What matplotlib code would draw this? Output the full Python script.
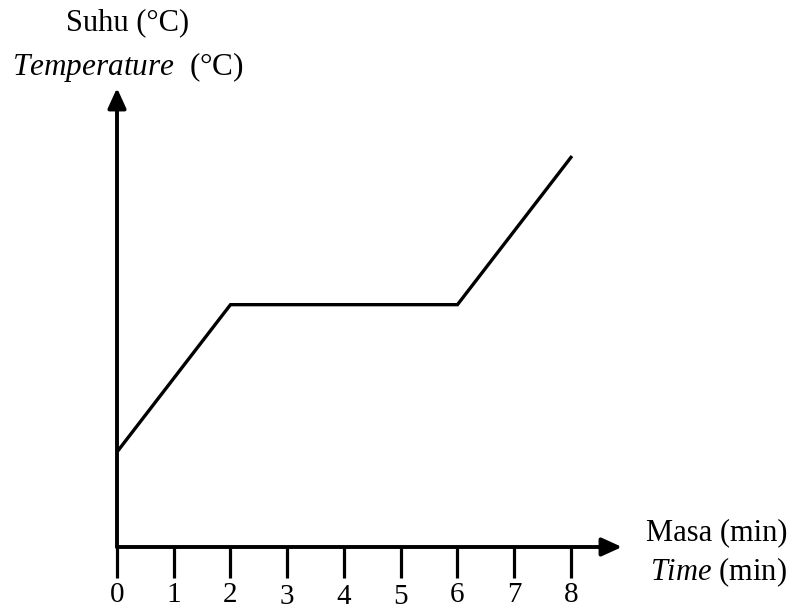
import matplotlib
matplotlib.use("Agg")
from matplotlib import pyplot as plt
from matplotlib.transforms import ScaledTranslation

# data: time (min) and temperature (arbitrary units, no y scale shown)
time_min = [0, 2, 6, 8]
temp = [20, 51, 51, 82]
tick_vals = [0, 1, 2, 3, 4, 5, 6, 7, 8]

plt.rcParams['font.family'] = ['Liberation Serif', 'DejaVu Serif']
plt.rcParams['mathtext.fontset'] = 'custom'
plt.rcParams['mathtext.rm'] = 'Liberation Serif'
plt.rcParams['mathtext.it'] = 'Liberation Serif:italic'

fig = plt.figure(figsize=(7.92, 6.12), dpi=100)
ax = fig.add_axes([117 / 792, 65 / 612, (622 - 117) / 792, (547 - 88) / 612])

ax.plot(time_min, temp, color='black', lw=2.4, solid_joinstyle='miter')

ax.set_xlim(0, 8.9)
ax.set_ylim(0, 96.6)

for s in ['top', 'right', 'left', 'bottom']:
    ax.spines[s].set_visible(False)

# axes drawn as arrows
arrow = dict(arrowstyle='-|>,head_length=0.55,head_width=0.25', lw=2.8,
             color='black', mutation_scale=22, shrinkA=0, shrinkB=0)
ax.annotate('', xy=(1, 0), xytext=(0, 0), xycoords='axes fraction',
            arrowprops=arrow)
ax.annotate('', xy=(0, 1), xytext=(0, 0), xycoords='axes fraction',
            arrowprops=arrow)

ax.set_xticks(tick_vals)
ax.set_xticklabels([str(t) for t in tick_vals])
ax.set_yticks([])
ax.tick_params(axis='x', direction='out', length=22, width=2.3,
               labelsize=21, pad=3.5)
# labels 3, 4, 5 sit a little lower in the original
for lab in ax.get_xticklabels()[3:6]:
    lab.set_transform(lab.get_transform() +
                      ScaledTranslation(0, -1.5 / 72, fig.dpi_scale_trans))

fig.text(128 / 792, 1 - 30 / 612, 'Suhu (°C)', fontsize=22,
         ha='center', va='baseline')
fig.text(12 / 792, 1 - 75 / 612, '$\\it{Temperature}$  (°C)', fontsize=22.5,
         ha='left', va='baseline')

fig.text(787 / 792, 1 - 540 / 612, 'Masa (min)', fontsize=22,
         ha='right', va='baseline')
fig.text(787 / 792, 1 - 580 / 612, '$\\it{Time}$ (min)', fontsize=22,
         ha='right', va='baseline')

fig.savefig('out.png', dpi=100)
